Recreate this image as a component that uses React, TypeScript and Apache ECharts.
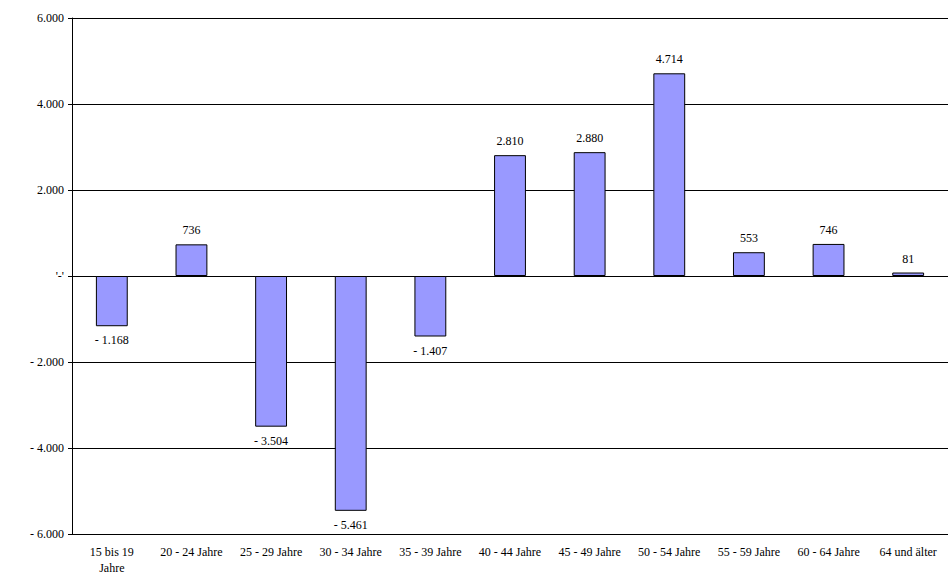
import React, { useEffect, useRef } from "react"
import * as echarts from "echarts"

const categories = [
  "15 bis 19\nJahre",
  "20 - 24 Jahre",
  "25 - 29 Jahre",
  "30 - 34 Jahre",
  "35 - 39 Jahre",
  "40 - 44 Jahre",
  "45 - 49 Jahre",
  "50 - 54 Jahre",
  "55 - 59 Jahre",
  "60 - 64 Jahre",
  "64 und älter",
]
const values = [-1168, 736, -3504, -5461, -1407, 2810, 2880, 4714, 553, 746, 81]

const fmt = (v: number) => {
  if (v === 0) return "'-'"
  const s = Math.abs(v).toString().replace(/\B(?=(\d{3})+(?!\d))/g, ".")
  return v < 0 ? "- " + s : s
}

export default function App() {
  const ref = useRef<HTMLDivElement>(null)

  useEffect(() => {
    if (!ref.current) return
    const chart = echarts.init(ref.current, undefined, { renderer: "svg" })
    chart.setOption({
      animation: false,
      textStyle: { fontFamily: "Liberation Serif" },
      grid: { left: 72, right: 1, top: 18, bottom: 44 },
      xAxis: {
        type: "category",
        data: categories,
        position: "bottom",
        axisLine: { show: false },
        axisTick: { show: false },
        axisLabel: { color: "#000", fontSize: 12, interval: 0, margin: 10, lineHeight: 16 },
      },
      yAxis: {
        type: "value",
        min: -6000,
        max: 6000,
        interval: 2000,
        axisLine: { show: true, lineStyle: { color: "#000" } },
        axisTick: { show: true, length: 4, lineStyle: { color: "#000" } },
        axisLabel: { color: "#000", fontSize: 12, formatter: fmt, margin: 8 },
        splitLine: { show: true, lineStyle: { color: "#000", width: 1 } },
      },
      series: [
        {
          type: "bar",
          data: values,
          barWidth: "40%",
          itemStyle: { color: "#9999FF", borderColor: "#000", borderWidth: 1 },
          label: {
            show: true,
            color: "#000",
            fontSize: 12,
            fontFamily: "Liberation Serif",
            position: "outside",
            distance: 8,
            formatter: (p: any) => fmt(p.value),
          },
        },
      ],
    })
    return () => chart.dispose()
  }, [])

  return (
    <div
      ref={ref}
      style={{ position: "absolute", left: 0, top: 0, width: 949, height: 578, background: "#fff" }}
    />
  )
}
